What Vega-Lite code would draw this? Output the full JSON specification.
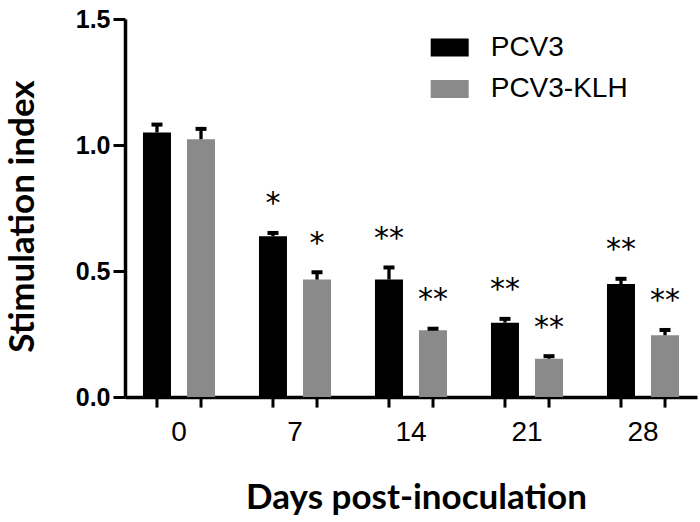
{
  "$schema": "https://vega.github.io/schema/vega-lite/v6.json",
  "width": 572,
  "height": 378,
  "autosize": "none",
  "padding": {"left": 125, "top": 19, "right": 3, "bottom": 125},
  "background": "white",
  "config": {"view": {"stroke": null}, "axis": {"grid": false}},
  "data": {
    "values": [
      {"day": "0", "group": "PCV3", "mean": 1.050, "upper": 1.081, "sig": ""},
      {"day": "0", "group": "PCV3-KLH", "mean": 1.023, "upper": 1.064, "sig": ""},
      {"day": "7", "group": "PCV3", "mean": 0.638, "upper": 0.651, "sig": "*"},
      {"day": "7", "group": "PCV3-KLH", "mean": 0.466, "upper": 0.495, "sig": "*"},
      {"day": "14", "group": "PCV3", "mean": 0.466, "upper": 0.514, "sig": "**"},
      {"day": "14", "group": "PCV3-KLH", "mean": 0.265, "upper": 0.271, "sig": "**"},
      {"day": "21", "group": "PCV3", "mean": 0.295, "upper": 0.310, "sig": "**"},
      {"day": "21", "group": "PCV3-KLH", "mean": 0.152, "upper": 0.162, "sig": "**"},
      {"day": "28", "group": "PCV3", "mean": 0.448, "upper": 0.469, "sig": "**"},
      {"day": "28", "group": "PCV3-KLH", "mean": 0.245, "upper": 0.266, "sig": "**"}
    ]
  },
  "encoding": {
    "x": {
      "field": "day",
      "type": "ordinal",
      "sort": ["0", "7", "14", "21", "28"],
      "scale": {"paddingInner": 0.379, "paddingOuter": 0.155},
      "axis": {
        "title": "Days post-inoculation",
        "labelAngle": 0,
        "ticks": false,
        "tickSize": 0,
        "labelFont": "Liberation Sans",
        "labelFontSize": 28,
        "labelColor": "black",
        "labelBaseline": "alphabetic",
        "labelPadding": 43,
        "domainColor": "black",
        "domainWidth": 3.5,
        "titleFont": "Lato",
        "titleFontWeight": "bold",
        "titleFontSize": 35,
        "titleColor": "black",
        "titleX": 291,
        "titleY": 111,
        "titleAlign": "center",
        "titleBaseline": "alphabetic"
      }
    },
    "xOffset": {
      "field": "group",
      "type": "nominal",
      "sort": ["PCV3", "PCV3-KLH"],
      "scale": {"paddingInner": 0.364, "paddingOuter": 0}
    }
  },
  "layer": [
    {
      "mark": {"type": "bar"},
      "encoding": {
        "y": {
          "field": "mean",
          "type": "quantitative",
          "scale": {"domain": [0, 1.5], "nice": false, "zero": true},
          "axis": {
            "title": "Stimulation index",
            "values": [0, 0.5, 1, 1.5],
            "format": ".1f",
            "labelFont": "Liberation Sans",
            "labelFontWeight": "bold",
            "labelFontSize": 25,
            "labelColor": "black",
            "labelPadding": 3,
            "tickSize": 12,
            "tickWidth": 3,
            "tickColor": "black",
            "domainColor": "black",
            "domainWidth": 3.5,
            "titleFont": "Lato",
            "titleFontWeight": "bold",
            "titleFontSize": 35,
            "titleColor": "black",
            "titleX": -92,
            "titleY": 197,
            "titleAngle": 270,
            "titleAlign": "center",
            "titleBaseline": "alphabetic"
          }
        },
        "color": {
          "field": "group",
          "type": "nominal",
          "scale": {"domain": ["PCV3", "PCV3-KLH"], "range": ["#000000", "#8a8a8a"]},
          "legend": {
            "orient": "none",
            "legendX": 305.7,
            "legendY": 9.5,
            "title": null,
            "padding": 0,
            "symbolType": "M-1,-0.4737H1V0.4737H-1Z",
            "symbolSize": 1444,
            "symbolStrokeWidth": 0,
            "symbolOpacity": 1,
            "labelFont": "Liberation Sans",
            "labelFontSize": 28,
            "labelColor": "black",
            "labelOffset": 22,
            "rowPadding": 8.5
          }
        }
      }
    },
    {
      "mark": {"type": "rule", "color": "black", "strokeWidth": 3.3},
      "encoding": {
        "y": {"field": "mean", "type": "quantitative"},
        "y2": {"field": "upper"}
      }
    },
    {
      "mark": {"type": "tick", "color": "black", "size": 11, "thickness": 4, "opacity": 1},
      "encoding": {
        "y": {"field": "upper", "type": "quantitative"}
      }
    },
    {
      "mark": {"type": "text", "font": "DejaVu Sans", "fontSize": 30, "dy": -19.5, "baseline": "alphabetic", "color": "black"},
      "encoding": {
        "y": {"field": "upper", "type": "quantitative"},
        "text": {"field": "sig"}
      }
    },
    {
      "mark": {"type": "rule", "color": "black", "strokeWidth": 3},
      "encoding": {
        "y": {"datum": 0},
        "y2": {"datum": -0.042}
      }
    }
  ]
}
